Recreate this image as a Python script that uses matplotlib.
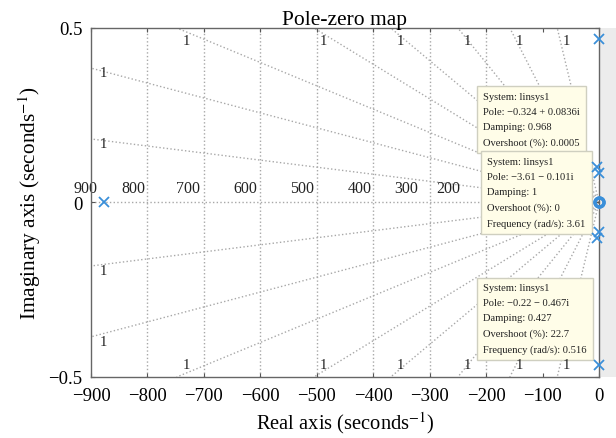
import matplotlib
matplotlib.use('Agg')
import matplotlib.pyplot as plt
from matplotlib.patches import Rectangle

plt.rcParams['font.family'] = ['Liberation Serif', 'DejaVu Serif']
plt.rcParams['mathtext.fontset'] = 'stix'

# poles and zeros
pole_re = [-877, -0.22, -0.22, -0.324, -0.324, -3.61, -3.61]
pole_im = [0, 0.467, -0.467, 0.0836, -0.0836, 0.101, -0.101]
zero_re = [0, 0]
zero_im = [0, 0]

# damping grid lines: where they leave the axes
damp_top_x = [-748, -505, -369, -250, -158, -74]
damp_left_y = [0.385, 0.182]
damp_label = '1'

# natural frequency grid
wn = [900, 800, 700, 600, 500, 400, 300, 200]
wn_label_x = [-889, -803, -707, -606, -505, -402, -321, -246]

tips = [
    ['System: linsys1', 'Pole: \u22120.324 + 0.0836i', 'Damping: 0.968',
     'Overshoot (%): 0.0005'],
    ['System: linsys1', 'Pole: \u22123.61 \u2212 0.101i', 'Damping: 1',
     'Overshoot (%): 0', 'Frequency (rad/s): 3.61'],
    ['System: linsys1', 'Pole: \u22120.22 \u2212 0.467i', 'Damping: 0.427',
     'Overshoot (%): 22.7', 'Frequency (rad/s): 0.516'],
]
tip_pos = [(0.772, 0.817), (0.780, 0.630), (0.772, 0.268)]

grid_c = '#a8a8a8'
blue = '#3a8fd9'

fig = plt.figure(figsize=(6.16, 4.39), dpi=100)
ax = fig.add_axes([0.1477, 0.139, 0.8247, 0.795])
fig.patches.append(Rectangle((0.9735, 0.139), 0.03, 0.795, transform=fig.transFigure,
                             facecolor='#ececec', edgecolor='none', zorder=-1))

# vertical wn lines
for w in wn[1:]:
    ax.axvline(-w, color=grid_c, ls=':', lw=1, zorder=1)
for w, lx in zip(wn, wn_label_x):
    ax.text(lx, 0.018, str(w), ha='right', va='bottom', fontsize=11.5,
            color='#222222', clip_on=False, zorder=2)

# damping lines
ax.plot([-900, 0], [0, 0], color=grid_c, ls=':', lw=1, zorder=1)
for xt in damp_top_x:
    for s in (1, -1):
        ax.plot([0, xt], [0, s * 0.5], color=grid_c, ls=':', lw=1, zorder=1)
        ax.annotate(damp_label, (xt, s * 0.5), xytext=(4, -9 * s),
                    textcoords='offset points', ha='left', va='center',
                    fontsize=10.5, color='#222222', zorder=11)
for yl in damp_left_y:
    for s in (1, -1):
        ax.plot([0, -900], [0, s * yl], color=grid_c, ls=':', lw=1, zorder=1)
        ax.annotate(damp_label, (-900, s * yl), xytext=(6, -3),
                    textcoords='offset points', ha='left', va='center',
                    fontsize=10.5, color='#222222')

ax.plot(pole_re, pole_im, 'x', color=blue, ms=7, mew=1.3, clip_on=False, zorder=12)
ax.plot(zero_re, zero_im, 'o', mfc='none', mec=blue, ms=6.5, mew=2.4, clip_on=False, zorder=12)

for lines, (px, py) in zip(tips, tip_pos):
    ax.text(px, py, '\n'.join(lines), transform=ax.transAxes, fontsize=7.6,
            ha='left', va='top', linespacing=1.85, color='#222222', zorder=10,
            bbox=dict(boxstyle='square,pad=0.57', facecolor='#fffde8',
                      edgecolor='#cfcfc0', lw=1))

ax.set_xlim(-900, 0)
ax.set_ylim(-0.5, 0.5)
ax.set_xticks(range(-900, 1, 100))
ax.set_yticks([-0.5, 0, 0.5])
ax.set_yticklabels(['\u22120.5', '0', '0.5'])
ax.tick_params(direction='in', length=3, labelsize=13.5, color='#555555',
               top=True, right=True)
ax.tick_params(axis='x', pad=7)
ax.tick_params(axis='y', pad=6)
for sp in ax.spines.values():
    sp.set_color('#666666')
    sp.set_linewidth(1)

ax.set_title('Pole-zero map', fontsize=15.5, pad=3)
ax.set_xlabel('Real axis (seconds$^{\u22121}$)', fontsize=14.8, labelpad=4)
ax.set_ylabel('Imaginary axis (seconds$^{\u22121}$)', fontsize=15.3, labelpad=4)

fig.savefig('out.png', dpi=100)
